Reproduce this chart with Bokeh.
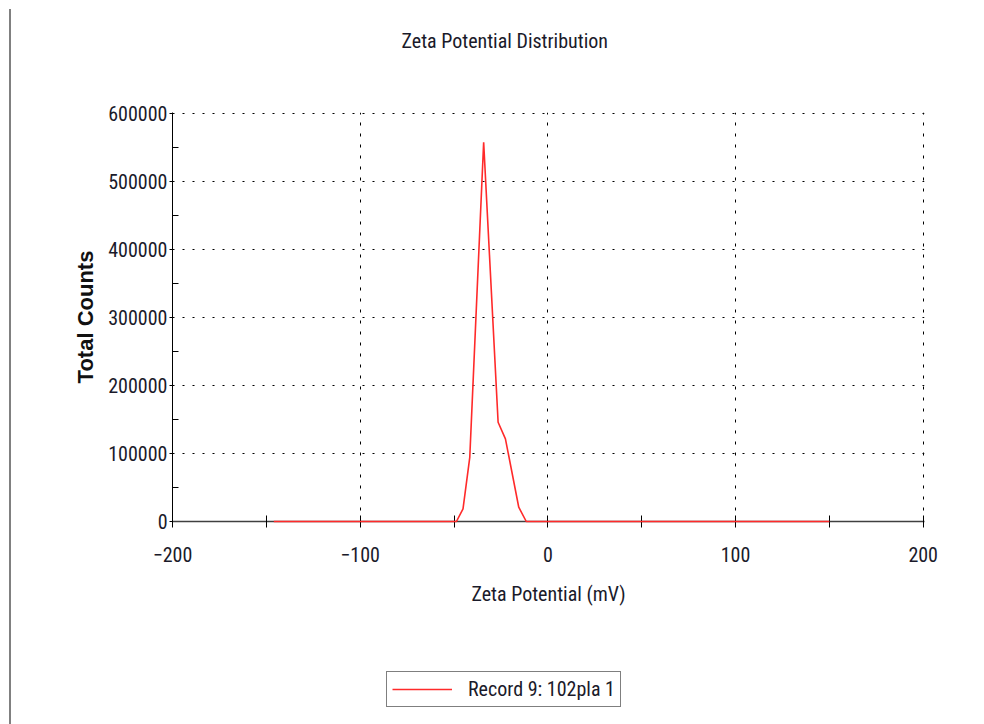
from bokeh.plotting import figure
from bokeh.models import (FixedTicker, Legend, LegendItem, Range1d, Div,
                          NumeralTickFormatter, Title)
from bokeh.layouts import row, column
from bokeh.embed import file_html
from bokeh.resources import INLINE

# Zeta potential distribution (mV vs. total counts)
zeta_mv = [-146.0, -48.7, -45.2, -41.6, -34.2, -26.5, -22.6, -15.5, -11.5, 150.0]
total_counts = [0, 0, 18700, 94500, 558000, 146000, 121600, 21000, 0, 0]

x_major = [-200, -100, 0, 100, 200]
x_minor = [-150, -50, 50, 150]
x_grid = [-100, 0, 100, 200]
y_major = [0, 100000, 200000, 300000, 400000, 500000, 600000]
y_minor = [50000, 150000, 250000, 350000, 450000, 550000]
y_grid = [100000, 200000, 300000, 400000, 500000, 600000]

series_label = "Record 9: 102pla 1"
title_text = "Zeta Potential Distribution"
x_title = "Zeta Potential (mV)"
y_title = "Total Counts"

NARROW = "Roboto Condensed, DejaVu Sans Condensed, Liberation Sans"
TEXT_COLOR = "#1a1a2a"
SIZE = "20px"
LINE_COLOR = "#ff2a2a"

# a hair of headroom so the dotted lines at 600000 and 200 mV stay visible
p = figure(width=973, height=620, output_backend="svg", toolbar_location=None,
           x_range=Range1d(-200, 200.7), y_range=Range1d(0, 601800),
           min_border_left=161, min_border_right=60,
           min_border_top=112, min_border_bottom=99)
p.outline_line_color = None
p.background_fill_color = "white"
p.border_fill_color = "white"

# title, kept clear of the frame by an empty spacer row
p.title.text = title_text
p.title.align = "left"
p.title.offset = 229
p.title.standoff = 0
p.title.text_font = NARROW
p.title.text_font_size = SIZE
p.title.text_font_style = "normal"
p.title.text_color = TEXT_COLOR
p.add_layout(Title(text=" ", text_font_size="1px", standoff=57), "above")

# x axis
xa = p.xaxis[0]
xa.ticker = FixedTicker(ticks=x_major, minor_ticks=x_minor)
xa.axis_line_color = "#404040"
xa.axis_line_width = 1.5
xa.major_tick_in = 6
xa.major_tick_out = 6
xa.minor_tick_in = 6
xa.minor_tick_out = 6
xa.major_tick_line_color = "black"
xa.minor_tick_line_color = "black"
xa.major_label_standoff = 19
xa.major_label_text_font = NARROW
xa.major_label_text_font_size = SIZE
xa.major_label_text_color = TEXT_COLOR
xa.axis_label = x_title
xa.axis_label_standoff = 17
xa.axis_label_text_font = NARROW
xa.axis_label_text_font_size = SIZE
xa.axis_label_text_font_style = "normal"
xa.axis_label_text_color = TEXT_COLOR

# y axis
ya = p.yaxis[0]
ya.ticker = FixedTicker(ticks=y_major, minor_ticks=y_minor)
ya.formatter = NumeralTickFormatter(format="0")
ya.axis_line_color = "black"
ya.major_tick_in = 0
ya.major_tick_out = 3
ya.minor_tick_in = 6
ya.minor_tick_out = 0
ya.major_tick_line_color = "black"
ya.minor_tick_line_color = "black"
ya.major_label_standoff = 2
ya.major_label_text_font = NARROW
ya.major_label_text_font_size = SIZE
ya.major_label_text_color = TEXT_COLOR
ya.axis_label = y_title
ya.axis_label_standoff = 7
ya.axis_label_text_font = "Liberation Sans"
ya.axis_label_text_font_size = "22px"
ya.axis_label_text_font_style = "bold"
ya.axis_label_text_color = "#111111"

# dotted grid
p.xgrid.ticker = FixedTicker(ticks=x_grid)
p.xgrid.grid_line_color = "black"
p.xgrid.grid_line_dash = "3 8"
p.xgrid.grid_line_width = 1
p.ygrid.ticker = FixedTicker(ticks=y_grid)
p.ygrid.grid_line_color = "black"
p.ygrid.grid_line_dash = "2 8"
p.ygrid.grid_line_width = 1

p.line(zeta_mv, total_counts, line_color=LINE_COLOR, line_width=1.6,
       level="overlay")

# legend strip below the plot
lg = figure(width=973, height=104, output_backend="svg", toolbar_location=None,
            x_axis_type=None, y_axis_type=None,
            x_range=Range1d(0, 1), y_range=Range1d(0, 1),
            min_border_left=0, min_border_right=0,
            min_border_top=0, min_border_bottom=0)
lg.outline_line_color = None
lg.xgrid.visible = False
lg.ygrid.visible = False
key = lg.line(x=[-1], y=[-1], line_color=LINE_COLOR, line_width=1.6)

legend = Legend(items=[LegendItem(label=series_label, renderers=[key])],
                location=(214, 17), orientation="vertical",
                border_line_color="black", border_line_width=1.2,
                background_fill_color="white", background_fill_alpha=1,
                label_text_font=NARROW, label_text_font_size=SIZE,
                label_text_color=TEXT_COLOR,
                glyph_width=60, glyph_height=22, label_standoff=16,
                padding=5, margin=0, spacing=0)
lg.add_layout(legend, "center")

edge = Div(text="", width=11, height=715, margin=(9, 0, 0, 0),
           styles={"border-right": "2px solid #808080",
                   "box-sizing": "border-box"})

layout = row(edge, column(p, lg, spacing=0), spacing=0)

with open("out.html", "w") as f:
    f.write(file_html(layout, INLINE))
